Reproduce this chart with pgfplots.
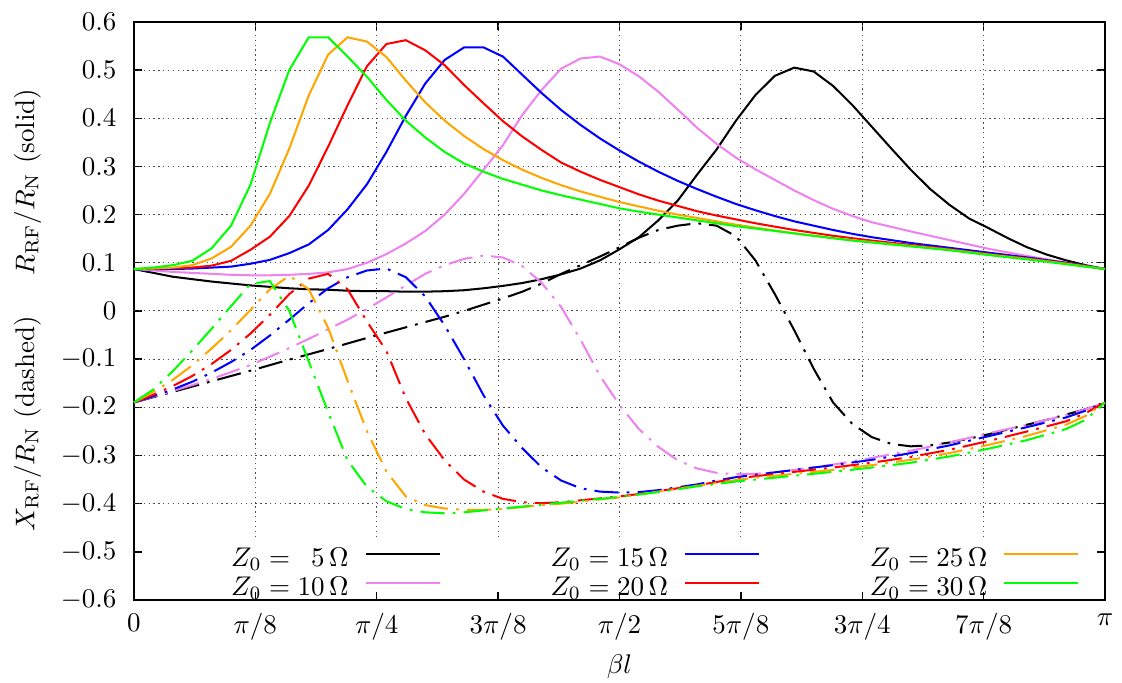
\documentclass[border=0pt]{standalone}
\usepackage{pgfplots}
\pgfplotsset{compat=1.18}
\definecolor{gviolet}{RGB}{238,130,238}
\definecolor{gorange}{RGB}{255,165,0}
\definecolor{ggreen}{RGB}{0,255,0}
\tikzset{gridl/.style={black!70, line width=0.4pt, dash pattern=on 0.5pt off 1.3pt},
  xdash/.style={dash pattern=on 9pt off 3pt on 1pt off 3pt}}
\begin{document}
\begin{tikzpicture}
\useasboundingbox (-49.6pt,-30.4pt) rectangle (365.9pt,222.2pt);
\begin{axis}[
 scale only axis, width=359.6pt, height=214.1pt,
 xmin=0, xmax=50, ymin=-0.6, ymax=0.6,
 clip=false,
 xtick={0,6.25,12.5,18.75,25,31.25,37.5,43.75,50},
 xticklabels={$0$,$\pi/8$,$\pi/4$,$3\pi/8$,$\pi/2$,$5\pi/8$,$3\pi/4$,$7\pi/8$,$\pi$},
 ytick={-0.6,-0.5,-0.4,-0.3,-0.2,-0.1,0,0.1,0.2,0.3,0.4,0.5,0.6},
 yticklabels={$-0.6$,$-0.5$,$-0.4$,$-0.3$,$-0.2$,$-0.1$,$0$,$0.1$,$0.2$,$0.3$,$0.4$,$0.5$,$0.6$},
 tick align=inside, tick pos=both, major tick length=3pt,
 tick style={black, line width=0.5pt},
 xticklabel style={yshift=-1.5pt},
 yticklabel style={xshift=-3pt},
 axis line style={line width=0.5pt},
 legend columns=3, legend plot pos=right, legend cell align=right,
 legend style={draw=none, fill=none, inner sep=0pt, outer sep=0pt,
   at={(0.1001,0.0906)}, anchor=north west, row sep=1.25pt,
   nodes={inner sep=0pt, text height=7pt, text depth=2.5pt},
   /tikz/every odd column/.append style={column sep=5.9pt},
   /tikz/every even column/.append style={column sep=40.7pt}},
 legend image code/.code={\draw[#1] (0pt,2.5pt) -- (27.4pt,2.5pt);},
]
% grid
\draw[gridl] (axis cs:6.25,-0.469) -- (axis cs:6.25,0.6);
\draw[gridl] (axis cs:12.5,-0.469) -- (axis cs:12.5,0.6);
\draw[gridl] (axis cs:18.75,-0.469) -- (axis cs:18.75,0.6);
\draw[gridl] (axis cs:25,-0.469) -- (axis cs:25,0.6);
\draw[gridl] (axis cs:31.25,-0.469) -- (axis cs:31.25,0.6);
\draw[gridl] (axis cs:37.5,-0.469) -- (axis cs:37.5,0.6);
\draw[gridl] (axis cs:43.75,-0.469) -- (axis cs:43.75,0.6);
\draw[gridl] (axis cs:0,-0.4) -- (axis cs:50,-0.4);
\draw[gridl] (axis cs:0,-0.3) -- (axis cs:50,-0.3);
\draw[gridl] (axis cs:0,-0.2) -- (axis cs:50,-0.2);
\draw[gridl] (axis cs:0,-0.1) -- (axis cs:50,-0.1);
\draw[gridl] (axis cs:0,0) -- (axis cs:50,0);
\draw[gridl] (axis cs:0,0.1) -- (axis cs:50,0.1);
\draw[gridl] (axis cs:0,0.2) -- (axis cs:50,0.2);
\draw[gridl] (axis cs:0,0.3) -- (axis cs:50,0.3);
\draw[gridl] (axis cs:0,0.4) -- (axis cs:50,0.4);
\draw[gridl] (axis cs:0,0.5) -- (axis cs:50,0.5);

% Z0 = 5
\addplot[black, line width=0.75pt, forget plot] coordinates {(0,.087)(1,.079)(2,.071)(3,.066)(4,.061)(5,.057)(6,.053)(7,.050)(8,.047)(9,.045)(10,.044)(11,.042)(12,.041)(13,.041)(14,.040)(15,.040)(16,.041)(17,.043)(18,.047)(19,.052)(20,.058)(21,.066)(22,.076)(23,.088)(24,.105)(25,.128)(26,.153)(27,.188)(28,.229)(29,.283)(30,.335)(31,.395)(32,.448)(33,.488)(34,.505)(35,.497)(36,.467)(37,.427)(38,.382)(39,.337)(40,.293)(41,.253)(42,.220)(43,.192)(44,.172)(45,.151)(46,.132)(47,.117)(48,.105)(49,.095)(50,.087)};
\addplot[black, line width=0.75pt, xdash, forget plot] coordinates {(0,-.190)(2,-.168)(4,-.146)(6,-.124)(8,-.101)(10,-.079)(12,-.056)(14,-.034)(16,-.012)(17,.000)(18,.013)(19,.026)(20,.040)(21,.057)(22,.077)(23,.095)(24,.113)(25,.132)(26,.152)(27,.168)(28,.177)(29,.182)(30,.177)(31,.155)(32,.105)(33,.035)(34,-.040)(35,-.120)(36,-.190)(37,-.235)(38,-.262)(39,-.276)(40,-.281)(41,-.279)(42,-.273)(43,-.265)(44,-.256)(45,-.246)(46,-.236)(47,-.226)(48,-.215)(49,-.204)(50,-.190)};
% Z0 = 10
\addplot[gviolet, line width=0.75pt, forget plot] coordinates {(0,.087)(1,.084)(2,.081)(3,.079)(4,.077)(5,.075)(6,.074)(7,.074)(8,.075)(9,.077)(10,.080)(11,.087)(12,.100)(13,.118)(14,.140)(15,.166)(16,.200)(17,.243)(18,.293)(19,.344)(20,.407)(21,.459)(22,.503)(23,.524)(24,.528)(25,.512)(26,.487)(27,.455)(28,.418)(29,.380)(30,.347)(31,.318)(32,.294)(33,.272)(34,.250)(35,.230)(36,.212)(37,.197)(38,.184)(40,.165)(42,.147)(44,.129)(46,.114)(48,.100)(50,.087)};
\addplot[gviolet, line width=0.75pt, xdash, forget plot] coordinates {(0,-.190)(1,-.178)(2,-.166)(3,-.154)(4,-.141)(5,-.127)(6,-.112)(7,-.095)(8,-.077)(9,-.058)(10,-.038)(11,-.018)(12,.004)(13,.028)(14,.053)(15,.077)(16,.095)(17,.108)(18,.115)(19,.111)(20,.093)(21,.058)(22,.008)(23,-.060)(24,-.135)(25,-.195)(26,-.245)(27,-.282)(28,-.310)(29,-.327)(30,-.336)(31,-.339)(32,-.338)(33,-.335)(34,-.330)(36,-.319)(38,-.305)(40,-.290)(42,-.273)(44,-.254)(46,-.236)(48,-.216)(49,-.204)(50,-.190)};
% Z0 = 15
\addplot[blue, line width=0.75pt, forget plot] coordinates {(0,.087)(1,.087)(2,.087)(3,.088)(4,.090)(5,.092)(6,.098)(7,.106)(8,.120)(9,.138)(10,.168)(11,.211)(12,.263)(13,.330)(14,.405)(15,.472)(16,.521)(17,.547)(18,.547)(19,.528)(20,.490)(21,.452)(22,.417)(23,.386)(24,.358)(25,.333)(26,.310)(27,.289)(28,.270)(29,.253)(30,.237)(31,.222)(32,.209)(33,.197)(34,.186)(35,.177)(36,.168)(37,.160)(38,.153)(40,.141)(42,.131)(44,.121)(46,.111)(48,.100)(50,.087)};
\addplot[blue, line width=0.75pt, xdash, forget plot] coordinates {(0,-.190)(1,-.177)(2,-.163)(3,-.147)(4,-.128)(5,-.106)(6,-.081)(7,-.051)(8,-.018)(9,.016)(10,.047)(11,.070)(12,.084)(13,.088)(14,.070)(15,.030)(16,-.030)(17,-.100)(18,-.175)(19,-.238)(20,-.285)(21,-.325)(22,-.352)(23,-.368)(24,-.375)(25,-.377)(26,-.376)(27,-.372)(28,-.366)(29,-.360)(30,-.352)(31,-.345)(32,-.340)(34,-.330)(36,-.320)(38,-.309)(40,-.295)(42,-.279)(44,-.260)(46,-.241)(48,-.221)(49,-.207)(50,-.190)};
% Z0 = 20
\addplot[red, line width=0.75pt, forget plot] coordinates {(0,.087)(1,.088)(2,.089)(3,.090)(4,.094)(5,.104)(6,.127)(7,.154)(8,.197)(9,.260)(10,.341)(11,.427)(12,.508)(13,.554)(14,.562)(15,.541)(16,.510)(17,.469)(18,.431)(19,.394)(20,.362)(21,.334)(22,.308)(23,.289)(24,.272)(25,.257)(26,.242)(27,.229)(28,.218)(29,.207)(30,.198)(31,.190)(32,.182)(33,.175)(34,.168)(35,.162)(36,.156)(37,.151)(38,.146)(40,.137)(42,.128)(44,.118)(46,.109)(48,.099)(50,.087)};
\addplot[red, line width=0.75pt, xdash, forget plot] coordinates {(0,-.190)(1,-.174)(2,-.156)(3,-.135)(4,-.110)(5,-.081)(6,-.047)(7,-.008)(8,.035)(9,.067)(10,.077)(11,.045)(12,-.022)(13,-.083)(14,-.181)(15,-.256)(16,-.310)(17,-.350)(18,-.375)(19,-.390)(20,-.397)(21,-.399)(22,-.397)(23,-.393)(24,-.389)(25,-.385)(26,-.380)(27,-.374)(28,-.368)(29,-.362)(30,-.355)(31,-.348)(32,-.343)(34,-.334)(36,-.325)(38,-.315)(40,-.303)(42,-.288)(44,-.270)(46,-.250)(48,-.229)(49,-.212)(50,-.190)};
% Z0 = 25
\addplot[gorange, line width=0.75pt, forget plot] coordinates {(0,.087)(1,.088)(2,.090)(3,.095)(4,.109)(5,.133)(6,.177)(7,.243)(8,.337)(9,.447)(10,.532)(11,.568)(12,.559)(13,.527)(14,.478)(15,.433)(16,.395)(17,.363)(18,.336)(19,.313)(20,.293)(21,.276)(22,.261)(23,.248)(24,.237)(25,.226)(26,.217)(27,.208)(28,.200)(29,.193)(30,.186)(31,.179)(32,.173)(33,.167)(34,.161)(35,.156)(36,.151)(37,.147)(38,.143)(40,.135)(42,.127)(44,.117)(46,.108)(48,.098)(50,.087)};
\addplot[gorange, line width=0.75pt, xdash, forget plot] coordinates {(0,-.190)(1,-.168)(2,-.143)(3,-.113)(4,-.078)(5,-.040)(6,.002)(7,.045)(8,.073)(9,.045)(10,-.035)(11,-.145)(12,-.250)(13,-.333)(14,-.385)(15,-.403)(16,-.410)(17,-.413)(18,-.413)(19,-.411)(20,-.407)(21,-.403)(22,-.400)(23,-.396)(24,-.391)(25,-.387)(26,-.381)(27,-.375)(28,-.369)(29,-.363)(30,-.357)(31,-.351)(32,-.346)(34,-.338)(36,-.330)(38,-.320)(40,-.309)(42,-.295)(44,-.278)(46,-.259)(48,-.236)(49,-.218)(50,-.190)};
% Z0 = 30
\addplot[ggreen, line width=0.75pt, forget plot] coordinates {(0,.087)(1,.090)(2,.095)(3,.104)(4,.130)(5,.177)(6,.262)(7,.390)(8,.500)(9,.568)(10,.568)(11,.528)(12,.486)(13,.438)(14,.395)(15,.360)(16,.330)(17,.306)(18,.289)(19,.274)(20,.262)(21,.250)(22,.240)(23,.231)(24,.222)(25,.213)(26,.206)(27,.200)(28,.194)(29,.188)(30,.182)(31,.176)(32,.171)(33,.166)(34,.161)(35,.156)(36,.151)(37,.146)(38,.142)(40,.134)(42,.126)(44,.116)(46,.107)(48,.097)(50,.087)};
\addplot[ggreen, line width=0.75pt, xdash, forget plot] coordinates {(0,-.190)(1,-.163)(2,-.125)(3,-.082)(4,-.037)(5,.010)(6,.056)(7,.062)(8,.000)(9,-.105)(10,-.210)(11,-.310)(12,-.365)(13,-.395)(14,-.411)(15,-.418)(16,-.420)(17,-.418)(18,-.414)(19,-.410)(20,-.406)(21,-.402)(22,-.398)(23,-.394)(24,-.390)(25,-.386)(26,-.381)(27,-.376)(28,-.370)(29,-.364)(30,-.359)(31,-.354)(32,-.350)(34,-.342)(36,-.334)(38,-.325)(40,-.315)(42,-.302)(44,-.286)(46,-.268)(48,-.245)(49,-.226)(50,-.190)};

\addlegendimage{black, line width=0.75pt}\addlegendentry{$Z_0 = \phantom{1}5\,\Omega$}
\addlegendimage{blue, line width=0.75pt}\addlegendentry{$Z_0 = 15\,\Omega$}
\addlegendimage{gorange, line width=0.75pt}\addlegendentry{$Z_0 = 25\,\Omega$}
\addlegendimage{gviolet, line width=0.75pt}\addlegendentry{$Z_0 = 10\,\Omega$}
\addlegendimage{red, line width=0.75pt}\addlegendentry{$Z_0 = 20\,\Omega$}
\addlegendimage{ggreen, line width=0.75pt}\addlegendentry{$Z_0 = 30\,\Omega$}

\node[rotate=90] at (rel axis cs:-0.1096,0.723) {$R_{\mathrm{RF}}/R_{\mathrm{N}}$ (solid)};
\node[rotate=90] at (rel axis cs:-0.1096,0.3045) {$X_{\mathrm{RF}}/R_{\mathrm{N}}$ (dashed)};
\node at (rel axis cs:0.5,-0.1158) {$\beta l$};
\end{axis}
\end{tikzpicture}
\end{document}
